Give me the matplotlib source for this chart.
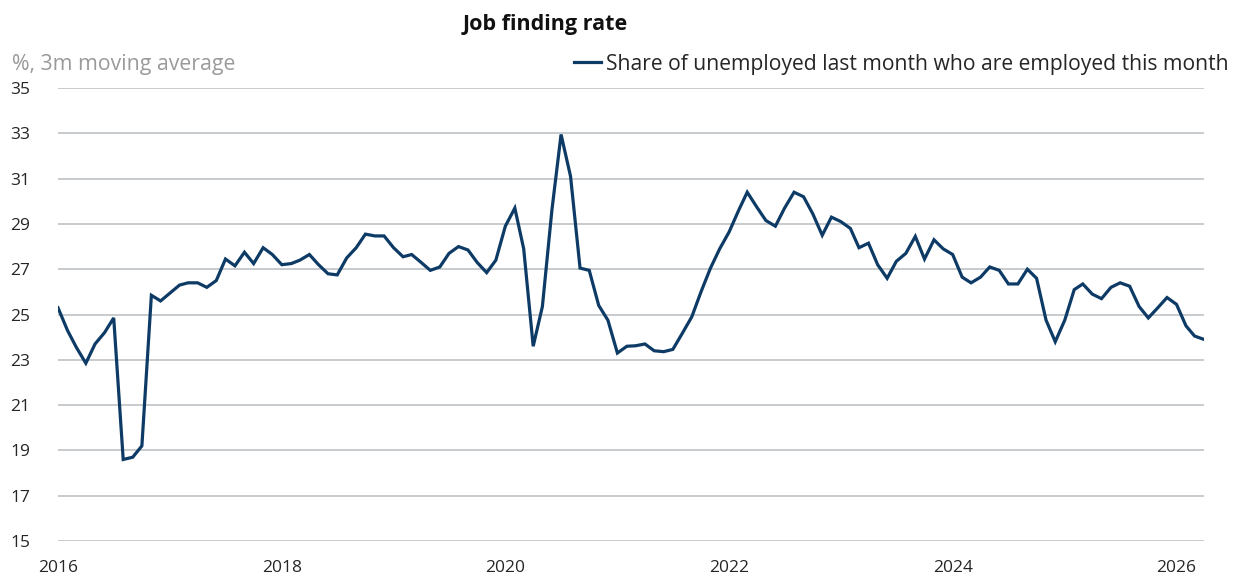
import matplotlib
matplotlib.use("Agg")
import matplotlib.pyplot as plt
import matplotlib.dates as mdates
import pandas as pd

# job finding rate, %, 3m moving average, monthly from Jan 2016
start_month = "2016-01-01"
job_finding_rate = [
    25.3, 24.3, 23.55, 22.85, 23.7, 24.2, 24.85, 18.6, 18.7, 19.2, 25.85, 25.6,
    25.95, 26.3, 26.4, 26.4, 26.2, 26.5, 27.45, 27.15, 27.75, 27.25, 27.95, 27.65,
    27.2, 27.25, 27.4, 27.65, 27.2, 26.8, 26.75, 27.5, 27.95, 28.55, 28.47, 28.47,
    27.95, 27.55, 27.65, 27.3, 26.95, 27.1, 27.7, 28.0, 27.85, 27.3, 26.85, 27.4,
    28.9, 29.7, 27.9, 23.6, 25.35, 29.6, 32.95, 31.1, 27.05, 26.95, 25.4, 24.75,
    23.3, 23.6, 23.62, 23.7, 23.4, 23.36, 23.46, 24.17, 24.9, 26.0, 27.05, 27.9,
    28.65, 29.6, 30.4, 29.75, 29.15, 28.9, 29.7, 30.4, 30.2, 29.45, 28.5, 29.3,
    29.1, 28.8, 27.95, 28.15, 27.2, 26.6, 27.35, 27.7, 28.45, 27.45, 28.3, 27.9,
    27.65, 26.65, 26.4, 26.65, 27.1, 26.95, 26.35, 26.35, 27.0, 26.6, 24.75, 23.8,
    24.75, 26.1, 26.35, 25.9, 25.7, 26.2, 26.4, 26.25, 25.35, 24.85, 25.3, 25.75,
    25.45, 24.5, 24.05, 23.9,
]
y_ticks = [15, 17, 19, 21, 23, 25, 27, 29, 31, 33, 35]
x_tick_years = [2016, 2018, 2020, 2022, 2024, 2026]

title = "Job finding rate"
unit_label = "%, 3m moving average"
series_label = "Share of unemployed last month who are employed this month"

LINE_COLOR = "#0d3b66"
GRID_COLOR = "#c4c7ca"
TEXT_COLOR = "#262626"

plt.rcParams["font.family"] = ["Open Sans", "DejaVu Sans"]

dates = pd.date_range(start_month, periods=len(job_finding_rate), freq="MS")

fig = plt.figure(figsize=(12.39, 5.83), dpi=100)
ax = fig.add_axes([0.0468, 0.072, 0.925, 0.777])

ax.plot(dates, job_finding_rate, color=LINE_COLOR, linewidth=2.3,
        solid_joinstyle="miter", label=series_label, zorder=3)

ax.set_ylim(15, 35)
ax.set_xlim(dates[0], dates[-1])
ax.set_yticks(y_ticks)
ax.set_xticks([pd.Timestamp(f"{y}-01-01") for y in x_tick_years])
ax.xaxis.set_major_formatter(mdates.DateFormatter("%Y"))
ax.grid(axis="y", color=GRID_COLOR, linewidth=1.3)
ax.set_axisbelow(True)
for s in ax.spines.values():
    s.set_visible(False)
ax.tick_params(axis="both", length=0, labelsize=12.5, labelcolor=TEXT_COLOR)
ax.tick_params(axis="x", pad=14)
for lab in ax.get_yticklabels():
    lab.set_horizontalalignment("left")
    lab.set_x(-0.0375)

fig.text(0.44, 0.958, title, ha="center", va="center", fontsize=15.5,
         fontweight="bold", color="#111111")
fig.text(0.01, 0.89, unit_label, ha="left", va="center", fontsize=15.3,
         color="#9a9a9a")

leg = ax.legend(loc="center right", bbox_to_anchor=(0.992, 0.890),
                bbox_transform=fig.transFigure, frameon=False,
                fontsize=15.2, handlelength=1.3, handletextpad=0.25,
                borderaxespad=0, borderpad=0)
for t in leg.get_texts():
    t.set_color(TEXT_COLOR)

fig.savefig("out.png", dpi=100)
